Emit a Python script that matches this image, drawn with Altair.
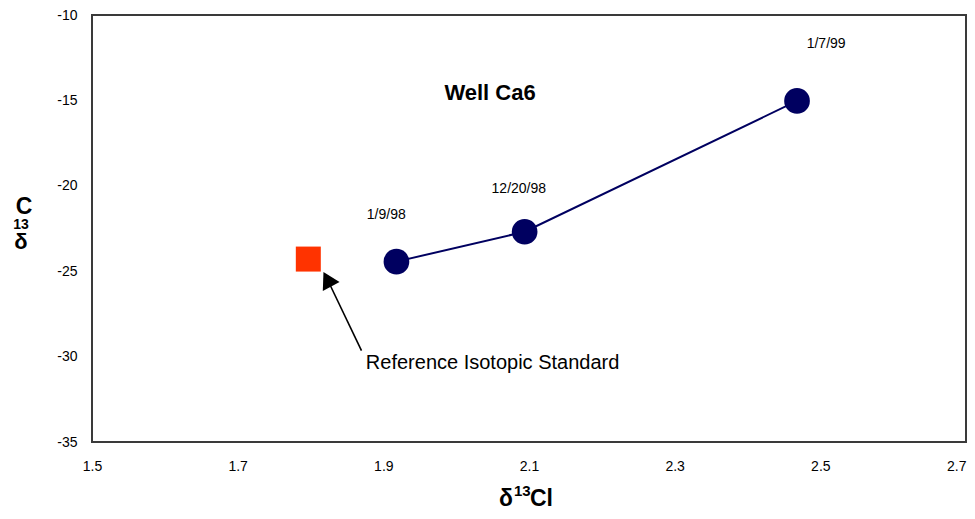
import altair as alt
import pandas as pd

# Well Ca6 samples
x_ci = [1.918, 2.094, 2.468]
y_c = [-24.44, -22.69, -15.03]
dates = ["1/9/98", "12/20/98", "1/7/99"]
label_x = [1.904, 2.086, 2.508]
label_y = [-21.71, -20.19, -11.70]

# Reference isotopic standard
std_x = [1.797]
std_y = [-24.29]

# annotation arrow (tail -> head) and texts
arrow_x = [1.870, 1.8231]
arrow_y = [-29.65, -25.47]
note_text = ["Reference Isotopic Standard"]
note_x = [1.876]
note_y = [-30.36]
title_text = ["Well Ca6"]
title_x = [2.0465]
title_y = [-14.57]

x_ticks = [1.5, 1.7, 1.9, 2.1, 2.3, 2.5, 2.7]
y_ticks = [-35, -30, -25, -20, -15, -10]

FONT = "Liberation Sans"
NAVY = "#000060"

samples = pd.DataFrame({"x": x_ci, "y": y_c, "date": dates, "lx": label_x, "ly": label_y})
std = pd.DataFrame({"x": std_x, "y": std_y})
arrow = pd.DataFrame({"x": arrow_x, "y": arrow_y, "o": [0, 1]})
head = pd.DataFrame({"x": [arrow_x[1]], "y": [arrow_y[1]]})
note = pd.DataFrame({"x": note_x, "y": note_y, "t": note_text})
ttl = pd.DataFrame({"x": title_x, "y": title_y, "t": title_text})

xs = alt.Scale(domain=[1.5, 2.7], nice=False, zero=False)
ys = alt.Scale(domain=[-35, -10], nice=False, zero=False)
xaxis = alt.Axis(values=x_ticks, format=".1f", ticks=False, domain=False, grid=False,
                 labelPadding=17, labelFontSize=14, labelFont=FONT, labelColor="black",
                 labelAlign={"condition": {"test": "datum.value >= 2.69", "value": "right"},
                             "value": "center"},
                 title=None)
yaxis = alt.Axis(values=y_ticks, labelExpr="'' + datum.value", ticks=False, domain=False,
                 grid=False, labelPadding=15, labelFontSize=14, labelFont=FONT,
                 labelColor="black", title=None)


def X(field="x"):
    return alt.X(f"{field}:Q", scale=xs, axis=xaxis)


def Y(field="y"):
    return alt.Y(f"{field}:Q", scale=ys, axis=yaxis)


line = alt.Chart(samples).mark_line(color=NAVY, strokeWidth=2).encode(x=X(), y=Y(), order="x:Q")
pts = alt.Chart(samples).mark_circle(color=NAVY, size=660, opacity=1).encode(x=X(), y=Y())
labels = alt.Chart(samples).mark_text(font=FONT, fontSize=14, color="black").encode(
    x=X("lx"), y=Y("ly"), text="date:N")
square = alt.Chart(std).mark_square(color="#FF3300", size=625, opacity=1).encode(x=X(), y=Y())
arr = alt.Chart(arrow).mark_line(color="black", strokeWidth=1.6).encode(x=X(), y=Y(), order="o:Q")
arrhead = alt.Chart(head).mark_point(shape="triangle-up", filled=True, color="black",
                                     size=360, angle=332, opacity=1).encode(x=X(), y=Y())
note_t = alt.Chart(note).mark_text(font=FONT, fontSize=20, color="black", align="left").encode(
    x=X(), y=Y(), text="t:N")
title_t = alt.Chart(ttl).mark_text(font=FONT, fontSize=22, fontWeight="bold", color="black").encode(
    x=X(), y=Y(), text="t:N")

# axis titles built from pieces (superscript 13, stacked y title as in the original)
title_parts = ["C", "13", "δ", "δ", "13", "Cl"]
title_sizes = [23, 14, 22, 23, 15, 23]
title_align = ["center", "center", "center", "left", "left", "left"]
title_xpos = [-68, -71, -71, 407, 422, 438]
title_ypos = [199, 214, 234, 491, 481, 491]
axis_title_layers = []
for t, s, a, px, py in zip(title_parts, title_sizes, title_align, title_xpos, title_ypos):
    axis_title_layers.append(
        alt.Chart(pd.DataFrame({"t": [t]})).mark_text(
            font=FONT, fontSize=s, fontWeight="bold", color="black", align=a,
            baseline="alphabetic").encode(
            x=alt.value(px), y=alt.value(py), text="t:N"))

chart = alt.layer(line, pts, labels, square, arr, arrhead, note_t, title_t,
                  *axis_title_layers).properties(
    width=874, height=427,
    autosize=alt.AutoSizeParams(type="none"),
    padding={"left": 84, "top": 7, "right": 1, "bottom": 69},
    background="white",
).configure_view(stroke="#3a3a3a", strokeWidth=2)

chart.save("out.html", embed_options={"renderer": "svg", "actions": False})
